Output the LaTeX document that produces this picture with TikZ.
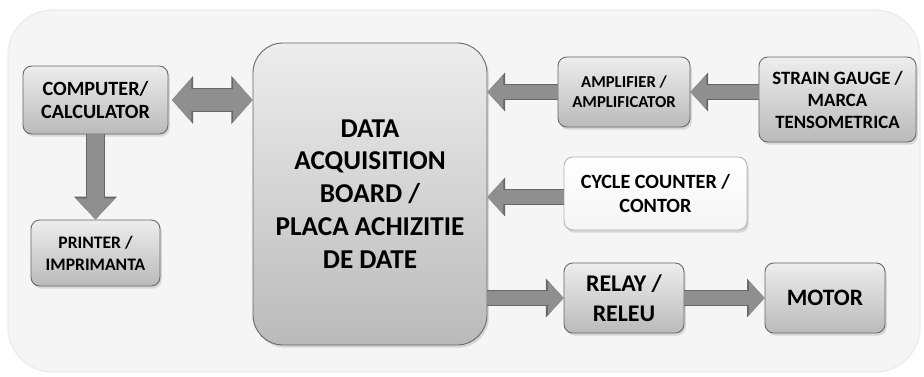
\documentclass[tikz,border=0pt]{standalone}
\usepackage{fontspec}
\setmainfont{Carlito}
\usetikzlibrary{arrows.meta,shadows}
\definecolor{boxtop}{rgb}{0.93,0.93,0.93}
\definecolor{boxbot}{rgb}{0.73,0.73,0.73}
\definecolor{boxline}{rgb}{0.40,0.40,0.40}
\definecolor{arrowgray}{rgb}{0.56,0.56,0.56}
\definecolor{arrowedge}{rgb}{0.40,0.40,0.40}
\definecolor{backfill}{rgb}{0.96,0.96,0.96}
\tikzstyle{every node}=[font=\bfseries]
\tikzstyle{block}=[draw=boxline,line width=0.5pt,rounded corners=5pt,top color=boxtop,bottom color=boxbot,align=center,inner sep=2pt,drop shadow={shadow xshift=1pt,shadow yshift=-1.5pt,opacity=0.25}]
\tikzstyle{fatarrow}=[draw=arrowgray,line width=8pt,-{Triangle[length=9pt,width=19pt]},preaction={draw=arrowedge,line width=9.2pt,-{Triangle[length=10pt,width=21.5pt]}}]
\tikzstyle{dblarrow}=[draw=arrowgray,line width=12pt,{Triangle[length=11pt,width=24pt]}-{Triangle[length=11pt,width=24pt]},preaction={draw=arrowedge,line width=13.2pt,{Triangle[length=12pt,width=26.5pt]}-{Triangle[length=12pt,width=26.5pt]}}]
\tikzstyle{downarrow}=[draw=arrowgray,line width=10pt,-{Triangle[length=12pt,width=21pt]},preaction={draw=arrowedge,line width=11.2pt,-{Triangle[length=13pt,width=23.5pt]}}]

\begin{document}
\begin{tikzpicture}[line cap=butt,line join=round,x=1.0cm,y=1.0cm]
    \useasboundingbox (0,0) rectangle (18.48,7.52);
    \draw[rounded corners=0.9cm,fill=backfill,draw=gray!15,line width=0.8pt] (0.16,0.08) rectangle (18.4,7.32);
    \node[block,minimum width=2.9cm,minimum height=1.36cm,font=\bfseries\fontsize{11.5}{13}\selectfont] (computer) at (1.91,5.52) {COMPUTER/\\CALCULATOR};
    \node[block,minimum width=2.58cm,minimum height=1.32cm,font=\bfseries\fontsize{10}{12.5}\selectfont] (printer) at (1.91,2.46) {PRINTER /\\IMPRIMANTA};
    \node[block,rounded corners=0.6cm,minimum width=4.68cm,minimum height=6.04cm,font=\bfseries\fontsize{15.5}{18.7}\selectfont] (daq) at (7.4,3.64) {DATA\\ACQUISITION\\BOARD /\\PLACA ACHIZITIE\\DE DATE};
    \node[block,minimum width=2.64cm,minimum height=1.4cm,font=\bfseries\fontsize{9.5}{11.3}\selectfont] (amplifier) at (12.48,5.68) {AMPLIFIER /\\AMPLIFICATOR};
    \node[block,minimum width=3.14cm,minimum height=1.7cm,font=\bfseries\fontsize{10.7}{12.5}\selectfont] (gauge) at (16.75,5.53) {STRAIN GAUGE /\\MARCA\\TENSOMETRICA};
    \node[block,top color=white,bottom color=gray!8,draw=gray!60,minimum width=3.66cm,minimum height=1.46cm,font=\bfseries\fontsize{11.5}{13.5}\selectfont] (counter) at (13.11,3.65) {CYCLE COUNTER /\\CONTOR};
    \node[block,minimum width=2.4cm,minimum height=1.4cm,font=\bfseries\fontsize{13.6}{17}\selectfont] (relay) at (12.48,1.56) {RELAY /\\RELEU};
    \node[block,minimum width=2.4cm,minimum height=1.4cm,font=\bfseries\fontsize{13.4}{16}\selectfont] (motor) at (16.5,1.56) {MOTOR};
    \draw[dblarrow] ([xshift=2pt]computer.east) -- (computer.east -| daq.west);
    \draw[downarrow] (computer.south) -- (printer.north);
    \draw[fatarrow] (amplifier.west) -- (amplifier.west -| daq.east);
    \draw[fatarrow] (gauge.west |- amplifier) -- (amplifier.east);
    \draw[fatarrow] ([yshift=-2pt]counter.west) -- ([yshift=-2pt]counter.west -| daq.east);
    \draw[fatarrow] (relay.west -| daq.east) -- (relay.west);
    \draw[fatarrow] (relay.east) -- (motor.west);
    \end{tikzpicture}
\end{document}
